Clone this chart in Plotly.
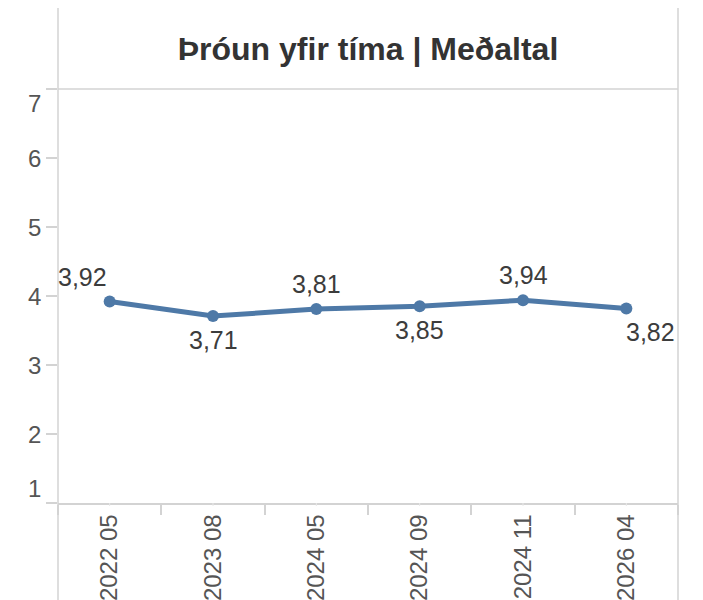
import plotly.graph_objects as go

# ---- data ----
categories = ["2022 05", "2023 08", "2024 05", "2024 09", "2024 11", "2026 04"]
values = [3.92, 3.71, 3.81, 3.85, 3.94, 3.82]
value_labels = ["3,92", "3,71", "3,81", "3,85", "3,94", "3,82"]
y_ticks = [1, 2, 3, 4, 5, 6, 7]
y_tick_labels = ["1", "2", "3", "4", "5", "6", "7"]
title_text = "Þróun yfir tíma | Meðaltal"

FONT = "Liberation Sans, Arial, sans-serif"
LINE_COLOR = "#4e79a7"
BORDER = "#d3d3d3"

W, H = 703, 600
ML, MR, MT, MB = 58, 25, 89, 97
plot_h = H - MT - MB

fig = go.Figure()
fig.add_trace(go.Scatter(
    x=categories, y=values, mode="lines+markers",
    line=dict(color=LINE_COLOR, width=5),
    marker=dict(color=LINE_COLOR, size=12),
    hoverinfo="skip", showlegend=False,
))

annotations = []
# data labels: above / below as in reference
label_pos = ["top left", "bottom", "top", "bottom", "top", "bottom right"]
for cat, v, lab, pos in zip(categories, values, value_labels, label_pos):
    xanchor = "center"
    xshift = 0
    if "left" in pos:
        xanchor, xshift = "right", -1
    elif "right" in pos:
        xanchor, xshift = "left", -2
    yshift = 25 if pos.startswith("top") else -24
    annotations.append(dict(
        x=cat, y=v, xref="x", yref="y", text=lab, showarrow=False,
        xanchor=xanchor, yanchor="middle", xshift=xshift, yshift=yshift,
        font=dict(family=FONT, size=25, color="#3c3c3c"),
    ))

# y tick labels (end labels nudged inside like the reference)
for tv, tl in zip(y_ticks, y_tick_labels):
    ys = 0
    if tv == max(y_ticks):
        ys = -14
    elif tv == min(y_ticks):
        ys = 15
    annotations.append(dict(
        x=0, y=tv, xref="paper", yref="y", text=tl, showarrow=False,
        xanchor="right", yanchor="middle", xshift=-15, yshift=ys,
        font=dict(family=FONT, size=24, color="#555555"),
    ))

shapes = []
top_paper = (H - MB - 8) / plot_h
bottom_paper = -MB / plot_h
# vertical pane borders
for xp in (0, 1):
    shapes.append(dict(type="line", xref="paper", yref="paper",
                       x0=xp, x1=xp, y0=bottom_paper, y1=top_paper,
                       line=dict(color=BORDER, width=1.5)))
# header bottom line
shapes.append(dict(type="line", xref="paper", yref="paper",
                   x0=0, x1=1, y0=1, y1=1, line=dict(color=BORDER, width=1.5)))
# faint centre ticks on the x axis
for cat in categories:
    shapes.append(dict(type="line", xref="x", yref="paper",
                       x0=cat, x1=cat, y0=0, y1=-3 / plot_h,
                       line=dict(color="#e8e8e8", width=1)))

fig.update_layout(
    width=W, height=H,
    margin=dict(l=ML, r=MR, t=MT, b=MB, pad=0, autoexpand=False),
    paper_bgcolor="white", plot_bgcolor="white",
    title=dict(text="<b>" + title_text + "</b>", x=0.5, xref="paper",
               y=1 - 49 / H, yref="container", yanchor="middle", xanchor="center",
               font=dict(family=FONT, size=32, color="#333333")),
    annotations=annotations,
    shapes=shapes,
    xaxis=dict(
        type="category", categoryorder="array", categoryarray=categories,
        range=[-0.5, len(categories) - 0.5], automargin=False,
        showgrid=False, zeroline=False,
        showline=True, linecolor=BORDER, linewidth=1.5,
        ticks="outside", tickson="boundaries", ticklen=10, tickcolor=BORDER, tickwidth=1.5,
        tickangle=-90, tickfont=dict(family=FONT, size=24, color="#555555"),
    ),
    yaxis=dict(
        range=[1, 7], tickvals=y_ticks, showticklabels=False, automargin=False,
        showgrid=False, zeroline=False, showline=False,
        ticks="outside", ticklen=11, tickcolor=BORDER, tickwidth=1.5,
    ),
)

fig.write_html("out.html", config={"displayModeBar": False},
               post_script="document.body.style.margin='0';document.body.style.overflow='hidden';")
